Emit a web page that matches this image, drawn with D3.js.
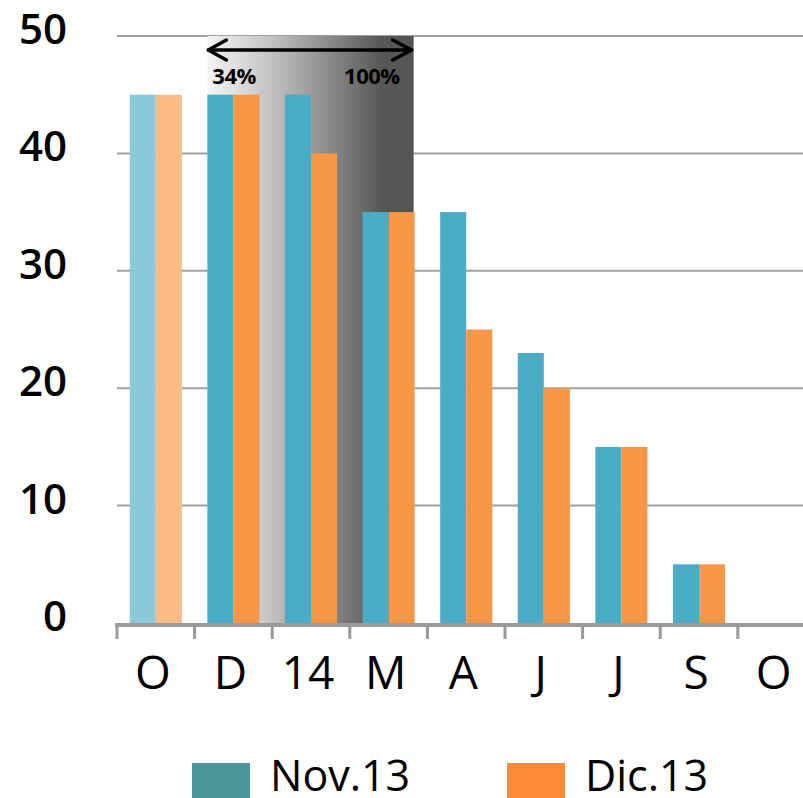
<!DOCTYPE html>
<html><head><meta charset="utf-8">
<script src="https://cdn.jsdelivr.net/npm/d3@7"></script>
<style>html,body{margin:0;padding:0;background:#fff;}svg{display:block;}</style>
</head><body>
<svg id="chart" width="803" height="798"></svg>
<script>
const categories = ["O","D","14","M","A","J","J","S","O"];
const seriesNames = ["Nov.13","Dic.13"];
const nov = [45,45,45,35,35,23,15,5,0];
const dic = [45,45,40,35,25,20,15,5,0];
const yTicks = [0,10,20,30,40,50];
const rangeLabels = ["34%","100%"];
const rangeStart = 1, rangeEnd = 3;

(function(){
const svg = d3.select("#chart");
const plotLeft = 117, plotBottom = 623, plotTop = 36;
const step = 77.6;
const x0 = d3.scaleBand().domain(d3.range(categories.length)).range([plotLeft, plotLeft + step*categories.length]).padding(0);
const x1 = d3.scaleBand().domain(seriesNames).range([0, x0.bandwidth()]).paddingInner(0).paddingOuter(0.49);
const y = d3.scaleLinear().domain([0,50]).range([plotBottom, plotTop]);

const barColors = ["#4bacc6","#f79646"];
const fadedColors = ["#8ccadb","#fabb85"];
const legendColors = ["#4a9699","#ff8a35"];
const font = "'Open Sans', sans-serif";

// gridlines
svg.append("g").selectAll("line").data(yTicks.filter(d=>d>0)).join("line")
  .attr("x1", plotLeft).attr("x2", 803).attr("y1", d=>y(d)).attr("y2", d=>y(d))
  .attr("stroke","#a0a0a0").attr("stroke-width",2);

// y labels
svg.append("g").selectAll("text").data(yTicks).join("text")
  .attr("x", 67).attr("y", d=>y(d)+8).attr("text-anchor","end")
  .attr("font-family", font).attr("font-size", 42).attr("font-weight", 600).attr("fill","#000")
  .text(d=>d);

// gradient region
const defs = svg.append("defs");
const grad = defs.append("linearGradient").attr("id","shade").attr("x1","0%").attr("x2","100%").attr("y1","0%").attr("y2","0%");
grad.append("stop").attr("offset","0%").attr("stop-color","#f4f4f4");
grad.append("stop").attr("offset","30%").attr("stop-color","#c4c4c4");
grad.append("stop").attr("offset","85%").attr("stop-color","#565656");
grad.append("stop").attr("offset","100%").attr("stop-color","#555555");
const rx0 = x0(rangeStart) + x1(seriesNames[0]);
const rx1 = x0(rangeEnd) + x1(seriesNames[1]) + x1.bandwidth() - 1;
svg.append("rect").attr("x", rx0).attr("y", y(50)).attr("width", rx1-rx0).attr("height", y(0)-y(50))
  .attr("fill","url(#shade)");

// arrow
const ay = 50;
const arrow = svg.append("g").attr("stroke","#000").attr("stroke-width",3.5).attr("fill","none").attr("stroke-linecap","round").attr("stroke-linejoin","round");
arrow.append("line").attr("x1", rx0+1).attr("x2", rx1-2).attr("y1", ay).attr("y2", ay);
arrow.append("path").attr("d", `M${rx0+19},${ay-10} L${rx0+1},${ay} L${rx0+19},${ay+10}`);
arrow.append("path").attr("d", `M${rx1-21},${ay-10} L${rx1-2},${ay} L${rx1-21},${ay+10}`);
svg.append("text").attr("x", rx0+5).attr("y", 84).attr("font-family",font).attr("font-weight",700).attr("font-size",22).attr("letter-spacing",-0.5).text(rangeLabels[0]);
svg.append("text").attr("x", rx1-14).attr("y", 84).attr("text-anchor","end").attr("font-family",font).attr("font-weight",700).attr("font-size",22).attr("letter-spacing",-0.5).text(rangeLabels[1]);

// bars
const data = categories.map((c,i)=>({i, vals:[nov[i], dic[i]]}));
const groups = svg.append("g").selectAll("g").data(data).join("g").attr("transform", d=>`translate(${x0(d.i)},0)`);
groups.selectAll("rect").data(d=>d.vals.map((v,k)=>({v,k,i:d.i}))).join("rect")
  .attr("x", d=>x1(seriesNames[d.k])).attr("width", x1.bandwidth())
  .attr("y", d=>y(d.v)).attr("height", d=>y(0)-y(d.v))
  .attr("fill", d=> d.i===0 ? fadedColors[d.k] : barColors[d.k]);

// x axis
svg.append("line").attr("x1", plotLeft-2).attr("x2", 803).attr("y1", plotBottom+2).attr("y2", plotBottom+2).attr("stroke","#9a9a9a").attr("stroke-width",4);
svg.append("g").selectAll("line").data(d3.range(categories.length)).join("line")
  .attr("x1", d=>x0(d)).attr("x2", d=>x0(d)).attr("y1", plotBottom).attr("y2", plotBottom+16)
  .attr("stroke","#9a9a9a").attr("stroke-width",3);
svg.append("g").selectAll("text").data(categories).join("text")
  .attr("x", (d,i)=>x0(i)+x0.bandwidth()/2-3).attr("y", 689).attr("text-anchor","middle")
  .attr("font-family", font).attr("font-size", 46).attr("font-weight", 500).attr("fill","#000")
  .text(d=>d);

// legend
const legendX = [192, 507];
const lg = svg.append("g").selectAll("g").data(seriesNames).join("g");
lg.append("rect").attr("x",(d,i)=>legendX[i]).attr("y",763).attr("width",58).attr("height",40).attr("fill",(d,i)=>legendColors[i]);
lg.append("text").attr("x",(d,i)=>legendX[i]+78).attr("y",791).attr("font-family",font).attr("font-size",43).attr("font-weight",500).attr("fill","#000").text(d=>d);
})();
</script>
</body></html>
